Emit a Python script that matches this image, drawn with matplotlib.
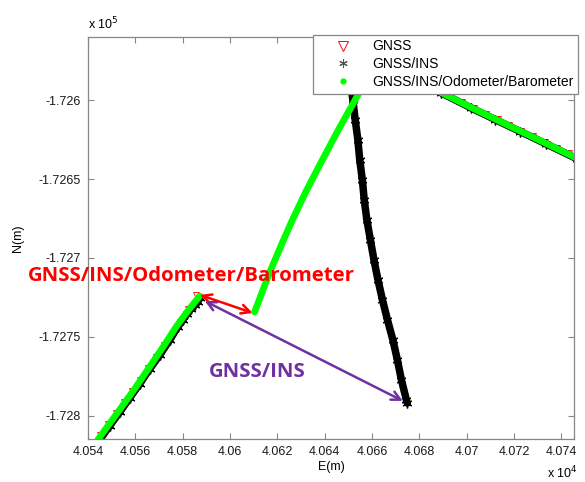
import numpy as np
import matplotlib
matplotlib.use("Agg")
import matplotlib.pyplot as plt
from matplotlib.lines import Line2D
from matplotlib.ticker import FuncFormatter

# GNSS fixes (E, N in metres) - before and after the outage
gnss_e = [40544.9, 40548.3, 40551.7, 40555.1, 40558.4, 40561.8, 40565.2, 40568.6,
          40572.0, 40575.3, 40578.7, 40582.1, 40585.5,
          np.nan,
          40693.0, 40698.0, 40703.0, 40708.0, 40713.0, 40718.0, 40723.0, 40728.0,
          40733.0, 40738.0, 40743.0]
gnss_n = [-172812.0, -172805.1, -172798.1, -172791.1, -172784.2, -172777.2, -172769.6, -172762.7,
          -172755.1, -172748.1, -172740.5, -172732.3, -172723.4,
          np.nan,
          -172597.8, -172601.4, -172605.0, -172608.6, -172612.2, -172615.8, -172619.4, -172623.0,
          -172626.6, -172630.2, -172633.8]

# GNSS/INS solution
ins_e = [40544.9, 40549.1, 40553.4, 40557.6, 40561.8, 40566.0, 40570.3, 40574.5,
         40577.9, 40580.0, 40581.7, 40583.4, 40585.1, 40586.3, 40587.2,
         np.nan,
         40651.0, 40651.9, 40652.9, 40654.0, 40654.8, 40655.9, 40656.7, 40657.8,
         40659.3, 40660.8, 40662.5, 40664.4, 40666.5, 40668.8, 40670.7, 40672.4,
         40674.5, 40674.9,
         np.nan,
         40689.0, 40701.6, 40712.1, 40722.7, 40733.3, 40746.4]
ins_n = [-172815.2, -172806.3, -172797.5, -172788.6, -172779.7, -172770.3, -172761.4, -172751.9,
         -172743.7, -172739.2, -172735.4, -172732.3, -172729.7, -172727.8, -172725.3,
         np.nan,
         -172590.5, -172600.0, -172612.7, -172625.3, -172638.0, -172650.6, -172663.3, -172675.9,
         -172688.6, -172701.3, -172713.9, -172726.6, -172739.2, -172751.9, -172764.6, -172777.2,
         -172789.9, -172791.8,
         np.nan,
         -172595.3, -172604.8, -172612.4, -172620.0, -172627.6, -172637.1]

# GNSS/INS/Odometer/Barometer solution
fus_e = [40544.1, 40552.1, 40559.7, 40566.0, 40572.0, 40577.5, 40582.5, 40587.2,
         np.nan,
         40610.4, 40613.8, 40617.6, 40621.9, 40626.5, 40632.0, 40638.4, 40645.5,
         40654.0, 40655.7,
         np.nan,
         40688.7, 40701.4, 40711.9, 40722.5, 40733.1, 40746.2]
fus_n = [-172815.2, -172798.7, -172782.9, -172769.0, -172755.7, -172743.0, -172732.9, -172724.1,
         np.nan,
         -172734.2, -172720.6, -172706.1, -172691.0, -172675.4, -172658.1, -172639.6, -172619.6,
         -172596.8, -172592.1,
         np.nan,
         -172594.9, -172604.4, -172612.0, -172619.6, -172627.2, -172636.7]

x_ticks = [40540, 40560, 40580, 40600, 40620, 40640, 40660, 40680, 40700, 40720, 40740]
y_ticks = [-172800, -172750, -172700, -172650, -172600]

plt.rcParams['font.family'] = ['Liberation Sans', 'DejaVu Sans']
plt.rcParams['axes.unicode_minus'] = False

fig = plt.figure(figsize=(5.85, 4.82), dpi=100)
ax = fig.add_axes([0.1504, 0.0892, 0.8308, 0.834])

asterisk = (6, 2, 0)
ax.plot(ins_e, ins_n, color='black', lw=5.4, marker=asterisk, ms=7, mew=1.0,
        solid_capstyle='round', solid_joinstyle='round', zorder=2)
ax.plot(gnss_e, gnss_n, ls='none', marker='v', ms=4.2, mfc='none', mec='red',
        mew=0.6, zorder=1)
ax.plot(fus_e, fus_n, color='#00ff00', lw=4.8, solid_capstyle='round',
        solid_joinstyle='round', zorder=3)

ax.set_xlim(40540, 40745.3)
ax.set_ylim(-172814.6, -172560.1)
ax.set_xticks(x_ticks)
ax.set_yticks(y_ticks)
ax.xaxis.set_major_formatter(FuncFormatter(lambda v, p: '%g' % round(v / 1e4, 4)))
ax.yaxis.set_major_formatter(FuncFormatter(lambda v, p: '%g' % round(v / 1e5, 5)))
ax.tick_params(direction='in', top=True, right=True, length=4, width=0.8,
               color='#868686', labelsize=9, labelcolor='#1a1a1a', pad=5)
for s in ax.spines.values():
    s.set_color('#868686')
    s.set_linewidth(0.9)

ax.set_xlabel('E(m)', fontsize=9, labelpad=2)
ax.set_ylabel('N(m)', fontsize=9, labelpad=11)
ax.text(0.0, 1.012, r'x 10$^5$', transform=ax.transAxes, fontsize=9,
        ha='left', va='bottom')
fig.text(0.987, 0.002, r'x 10$^4$', fontsize=9, ha='right', va='bottom')

# annotations
ax.annotate('', xy=(40587.3, -172723.4), xytext=(40609.6, -172734.8),
            arrowprops=dict(arrowstyle='<->', color='red', lw=1.8,
                            mutation_scale=16, shrinkA=0, shrinkB=0), zorder=6)
ax.annotate('', xy=(40589.3, -172727.2), xytext=(40673.0, -172790.5),
            arrowprops=dict(arrowstyle='<->', color='#7030a0', lw=1.8,
                            mutation_scale=16, shrinkA=0, shrinkB=0), zorder=6)
ax.text(40583.8, -172711.5, 'GNSS/INS/Odometer/Barometer', color='red',
        fontsize=14.7, fontweight='bold', family='Open Sans', ha='center', va='center')
ax.text(40611.7, -172772.0, 'GNSS/INS', color='#7030a0',
        fontsize=14.7, fontweight='bold', family='Open Sans', ha='center', va='center')

handles = [
    Line2D([], [], ls='none', marker='v', ms=7, mfc='none', mec='red', mew=0.7),
    Line2D([], [], ls='none', marker=asterisk, ms=6, color='#555555', mew=0.8),
    Line2D([], [], ls='none', marker='.', ms=7, color='#00ff00'),
]
leg = ax.legend(handles, ['GNSS', 'GNSS/INS', 'GNSS/INS/Odometer/Barometer'],
                loc='upper right', bbox_to_anchor=(1.008, 1.005), borderaxespad=0,
                fontsize=10, fancybox=False, framealpha=1, edgecolor='#868686',
                handlelength=3.6, handletextpad=0.3, labelspacing=0.28,
                borderpad=0.32)
leg.get_frame().set_linewidth(0.9)
leg.set_zorder(10)

fig.savefig('out.png', dpi=100)
